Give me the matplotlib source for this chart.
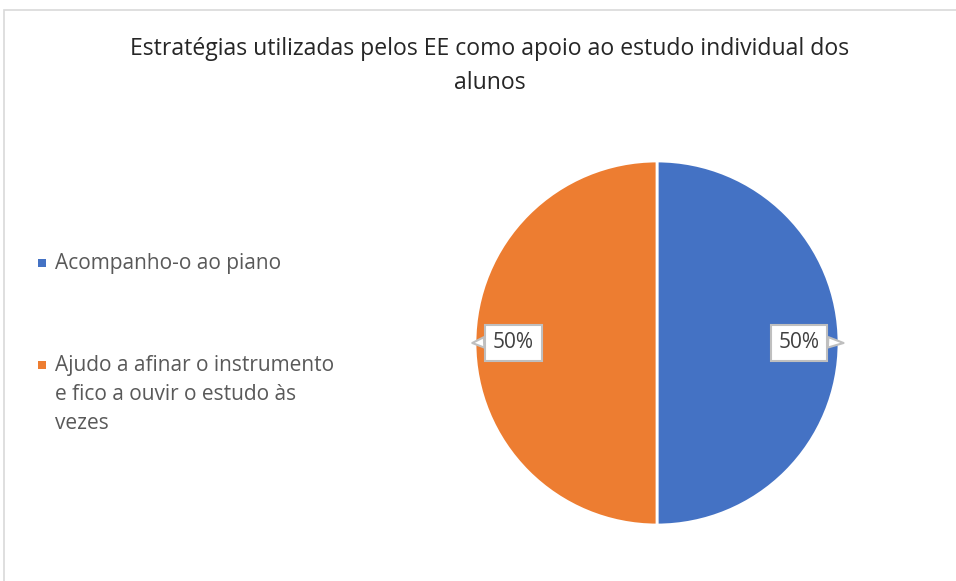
import matplotlib
matplotlib.use("Agg")
import matplotlib.pyplot as plt
from matplotlib.patches import Rectangle

plt.rcParams["font.family"] = ["Open Sans", "DejaVu Sans"]

# data
categories = ["Acompanho-o ao piano",
              "Ajudo a afinar o instrumento\ne fico a ouvir o estudo às\nvezes"]
values = [50, 50]
colors = ["#4472C4", "#ED7D31"]
title = "Estratégias utilizadas pelos EE como apoio ao estudo individual dos\nalunos"

W, H = 956, 581
fig = plt.figure(figsize=(W / 100, H / 100), dpi=100)

# chart frame (light gray border, partially cut off like the screenshot)
fig.patches.append(Rectangle((4 / W, -0.05), 1.1, 1 - 10 / H + 0.05,
                             transform=fig.transFigure, fill=False,
                             ec="#d9d9d9", lw=1.2))

fig.text(490 / W, 1 - 66 / H, title, ha="center", va="center",
         fontsize=16.6, color="#262626", linespacing=1.55)

# pie
cx, cy, r = 657, 343, 182
ax = fig.add_axes([(cx - r) / W, (H - cy - r) / H, 2 * r / W, 2 * r / H])
wedges, _ = ax.pie(values, colors=colors, startangle=90, counterclock=False,
                   wedgeprops=dict(edgecolor="white", linewidth=2))
ax.set_xlim(-1, 1)
ax.set_ylim(-1, 1)
ax.set_aspect("auto")

# callout data labels (pointer starts at the box side facing the slice edge)
total = sum(values)
label_pos = [(0.78, 0.0), (-0.79, 0.0)]
tip_pos = [(1.025, 0.0), (-1.015, 0.0)]
rel = [(1.0, 0.55), (0.0, 0.55)]
for v, xt, xy, rp in zip(values, label_pos, tip_pos, rel):
    ax.annotate(f"{v / total:.0%}", xy=xy, xytext=xt, ha="center", va="center",
                fontsize=15, color="#404040", annotation_clip=False,
                bbox=dict(boxstyle="square,pad=0.38", fc="white", ec="#bfbfbf", lw=1.5),
                arrowprops=dict(arrowstyle="wedge,tail_width=0.5,shrink_factor=0.5",
                                fc="white", ec="#bfbfbf", lw=1.5, relpos=rp,
                                shrinkA=0, shrinkB=0))

# legend drawn by hand (marker aligned with first text line)
leg_y = [263, 365]
for lab, col, y in zip(categories, colors, leg_y):
    fig.patches.append(Rectangle((38 / W, 1 - (y + 4) / H), 8 / W, 8 / H,
                                 transform=fig.transFigure, fc=col, ec="none"))
    fig.text(55 / W, 1 - (y - 10) / H, lab, ha="left", va="top",
             fontsize=15, color="#595959", linespacing=1.5)

fig.savefig("out.png", dpi=100)
